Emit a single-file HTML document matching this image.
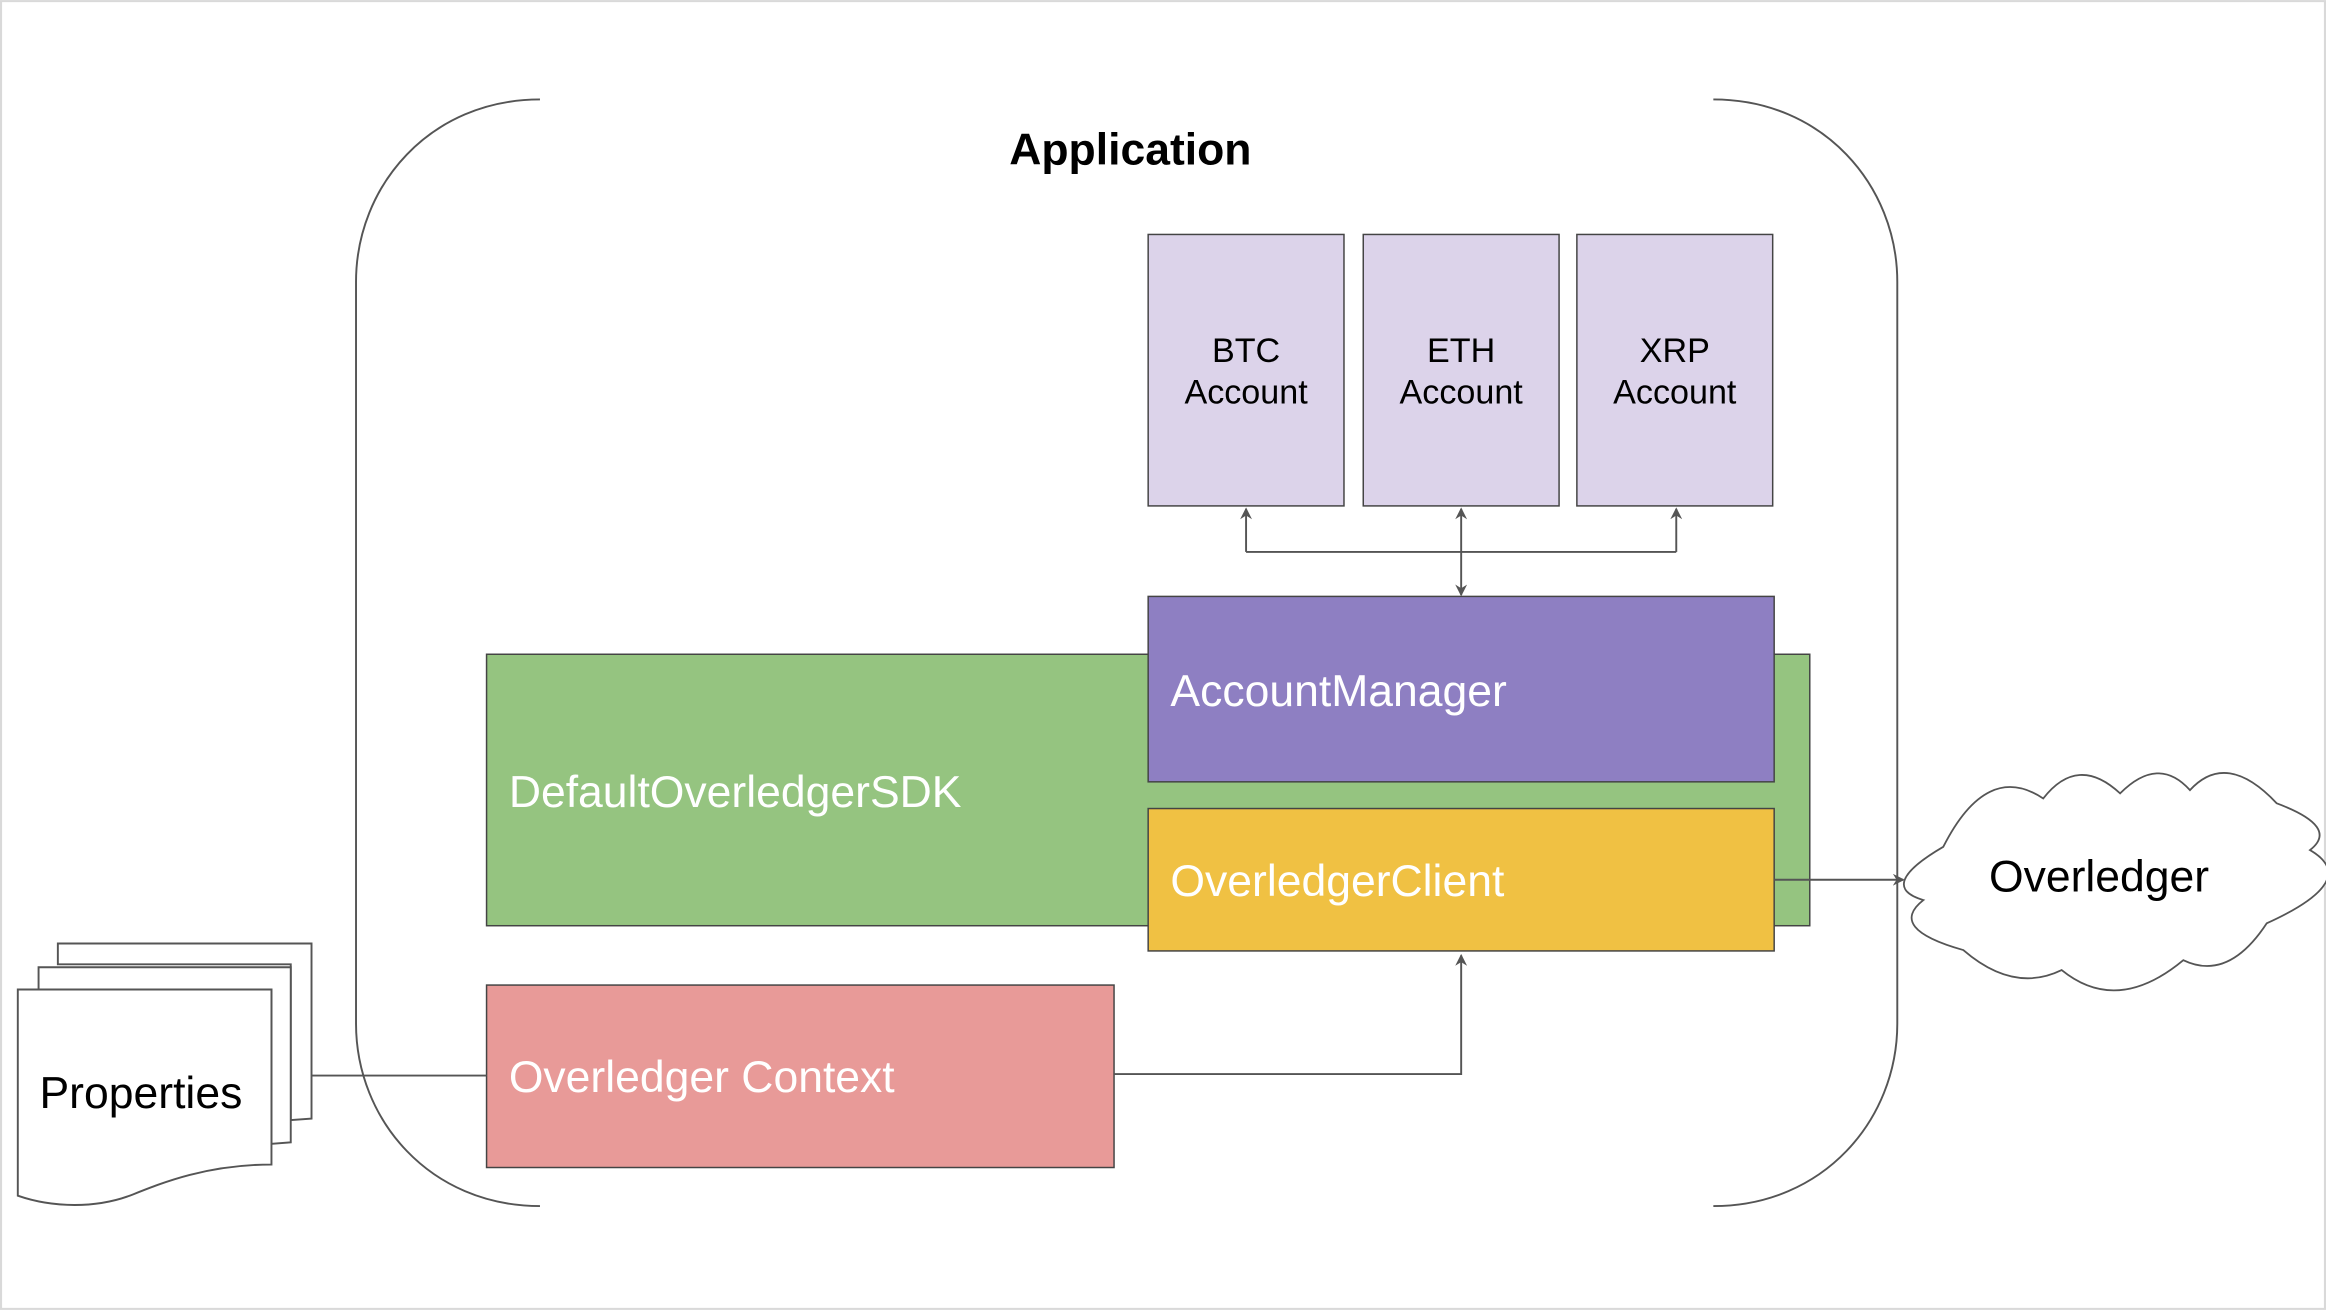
<!DOCTYPE html>
<html><head><meta charset="utf-8"><style>html,body{margin:0;padding:0;background:#fff}svg{display:block}text{font-family:"Liberation Sans",Arial,sans-serif}</style></head>
<body>
<svg width="2326" height="1310" viewBox="0 0 1568 883" xmlns="http://www.w3.org/2000/svg">
<defs><marker id="a" markerWidth="8" markerHeight="8" refX="7" refY="4" orient="auto" markerUnits="userSpaceOnUse"><path d="M0,0 L8,4 L0,8 L2.5,4 Z" fill="#555"/></marker></defs>
<rect x="0.7" y="0.7" width="1566.6" height="881.6" fill="#fff" stroke="#d9d9d9" stroke-width="1.4"/>
<g fill="none" stroke="#555" stroke-width="1.3">
<path d="M364,67 C290,67 240,125 240,190 V690 C240,755 290,813 364,813"/>
<path d="M1155,67 C1229,67 1279,125 1279,190 V690 C1279,755 1229,813 1155,813"/>
</g>
<text x="762" y="111" font-size="30" font-weight="bold" text-anchor="middle">Application</text>
<g stroke="#444" stroke-width="1" fill="#dcd3ea">
<rect x="774" y="158" width="132" height="183"/>
<rect x="919" y="158" width="132" height="183"/>
<rect x="1063" y="158" width="132" height="183"/>
</g>
<g font-size="23" text-anchor="middle">
<text x="840" y="244">BTC</text><text x="840" y="272">Account</text>
<text x="985" y="244">ETH</text><text x="985" y="272">Account</text>
<text x="1129" y="244">XRP</text><text x="1129" y="272">Account</text>
</g>
<g fill="none" stroke="#555" stroke-width="1.3">
<path d="M840,372 V343" marker-end="url(#a)"/>
<path d="M1130,372 V343" marker-end="url(#a)"/>
<path d="M840,372 H1130"/>
<path d="M985,372 V343" marker-end="url(#a)"/>
<path d="M985,372 V401" marker-end="url(#a)"/>
</g>
<rect x="328" y="441" width="892" height="183" fill="#95c480" stroke="#444" stroke-width="1"/>
<text x="343" y="544" font-size="30" fill="#fff">DefaultOverledgerSDK</text>
<rect x="774" y="402" width="422" height="125" fill="#8e7fc2" stroke="#444" stroke-width="1"/>
<text x="789" y="476" font-size="30" fill="#fff">AccountManager</text>
<rect x="774" y="545" width="422" height="96" fill="#f0c143" stroke="#444" stroke-width="1"/>
<text x="789" y="604" font-size="30" fill="#fff">OverledgerClient</text>
<rect x="328" y="664" width="423" height="123" fill="#e89a98" stroke="#444" stroke-width="1"/>
<text x="343" y="736" font-size="30" fill="#fff">Overledger Context</text>
<g fill="none" stroke="#555" stroke-width="1.3">
<path d="M751,724 H985 V644" marker-end="url(#a)"/>
<path d="M1196,593 H1283" marker-end="url(#a)"/>
<path d="M210,725 H328"/>
</g>
<path d="M1310,570.8 Q1339.3,512.9 1377.4,538.2 Q1400.7,508.3 1429.2,534.8 Q1455,508.9 1476.3,532.6 Q1501,505.6 1534.8,541.5 Q1577.4,557.4 1557.2,573 Q1592.2,593.3 1528,622.4 Q1502.1,661.8 1471.8,647.2 Q1427.2,684.3 1389.8,653.9 Q1357.4,669.7 1323.5,640.4 Q1272,625.9 1296.6,606.7 Q1264.7,597.3 1310,570.8 Z" fill="#fff" stroke="#555" stroke-width="1.2"/>
<text x="1415" y="601" font-size="30" text-anchor="middle">Overledger</text>
<g fill="#fff" stroke="#555" stroke-width="1.3">
<path d="M39,636 H210 V754 L196,755 V650 H39 Z"/>
<path d="M26,652 H196 V770 L183,771 V667 H26 Z"/>
<path d="M12,667 H183 V785 C140,785 110,797 90,805 C65,815 35,814 12,806 Z"/>
</g>
<text x="95" y="747" font-size="30" text-anchor="middle">Properties</text>
</svg>
</body></html>
